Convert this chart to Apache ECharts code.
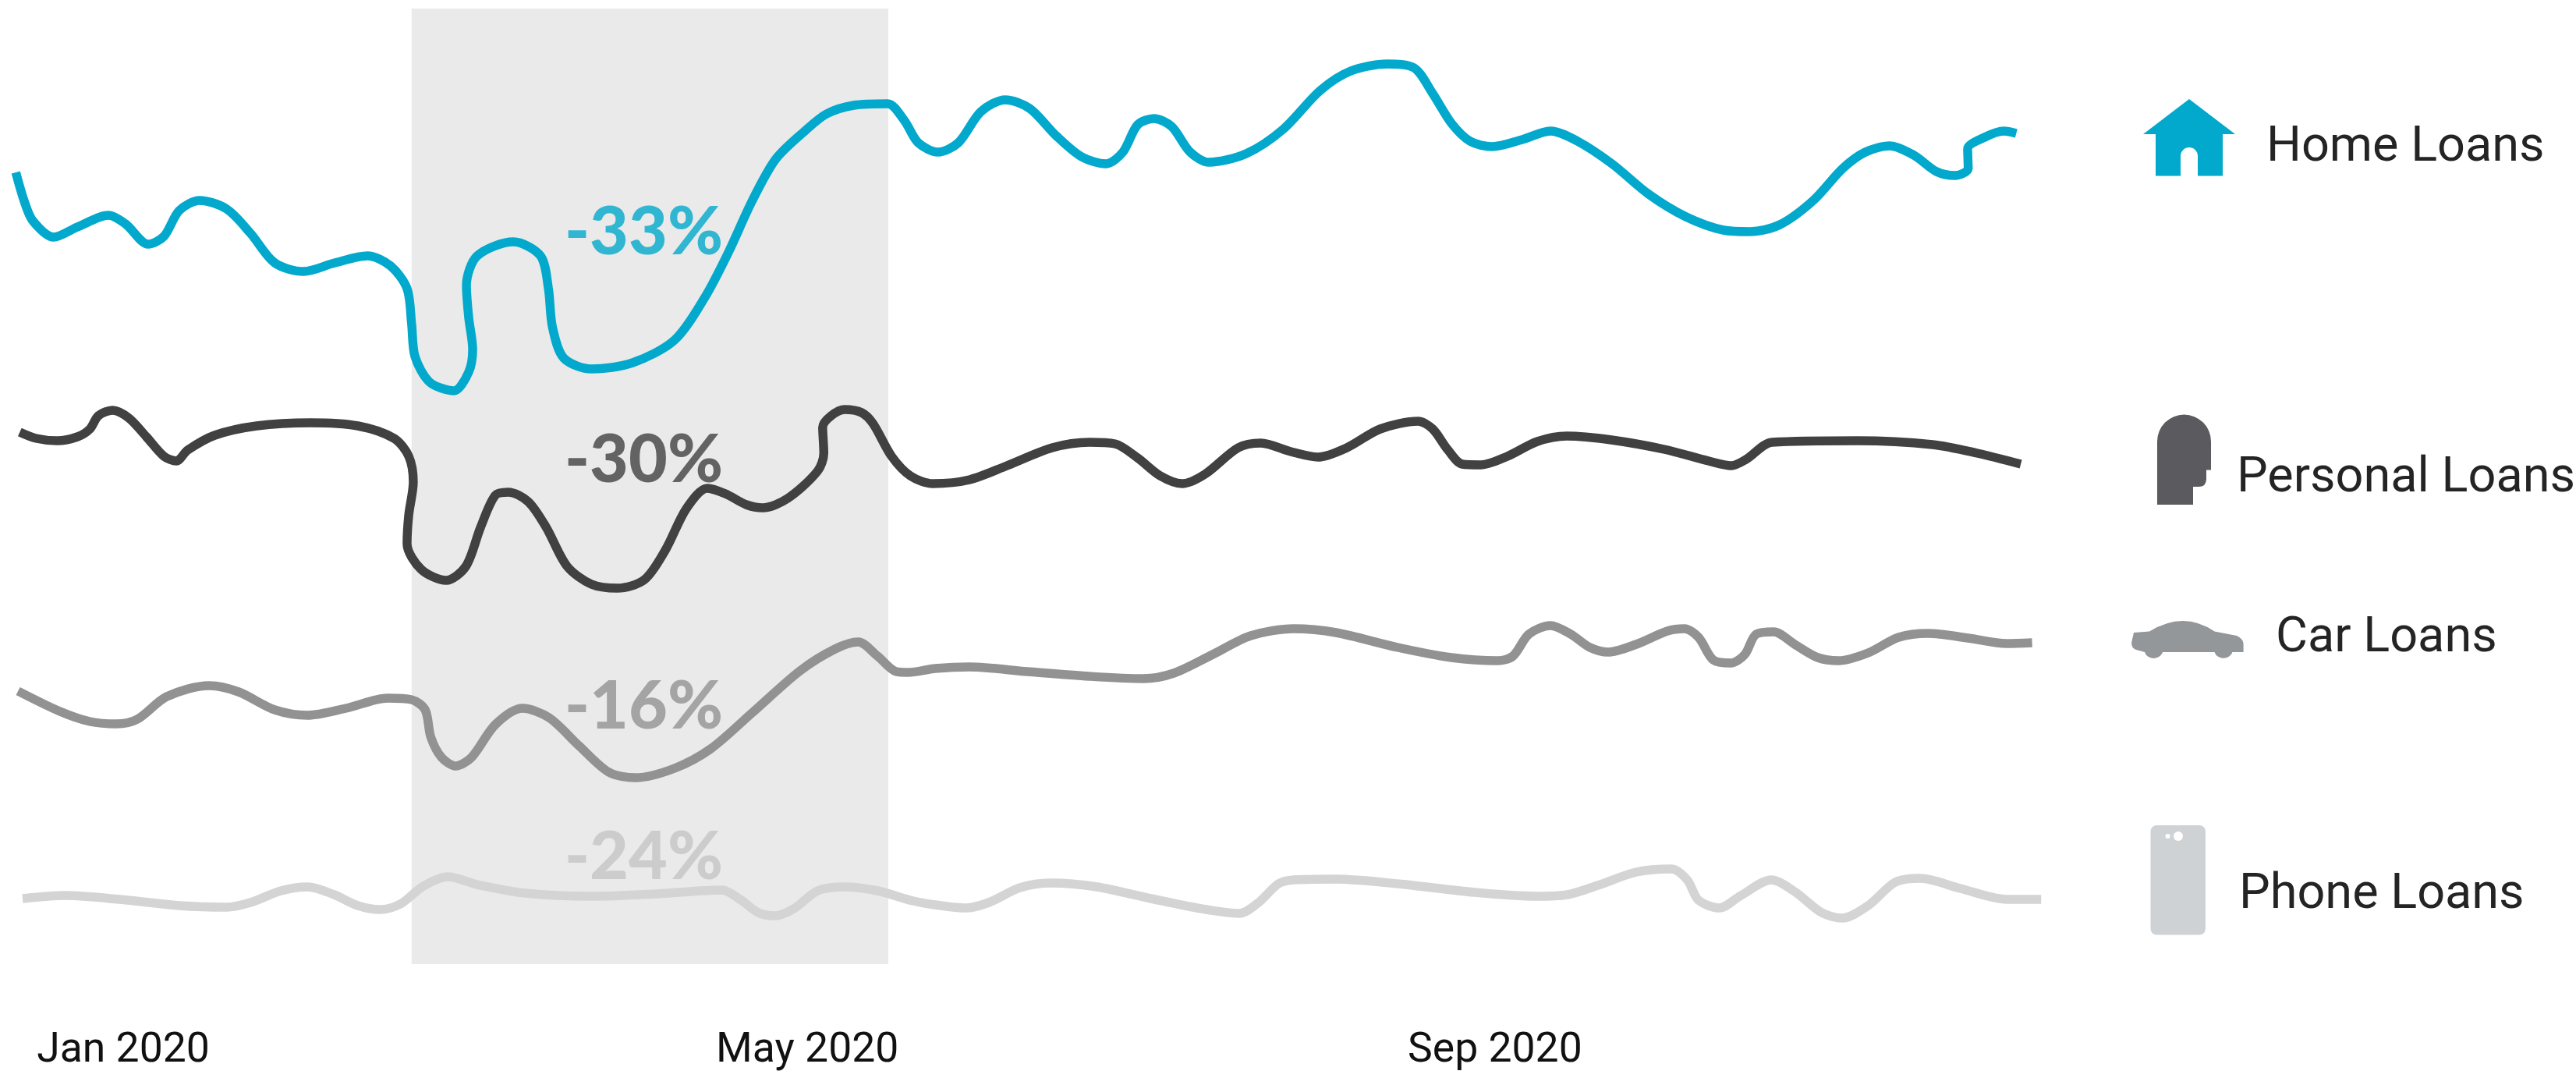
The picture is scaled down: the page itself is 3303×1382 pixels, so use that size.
<!DOCTYPE html>
<html>
<head>
<meta charset="utf-8">
<title>Loan applications, 2020</title>
<style>html,body{margin:0;padding:0;background:#fff}#chart{width:3303px;height:1382px}</style>
<script src="https://cdn.jsdelivr.net/npm/echarts@6/dist/echarts.min.js"></script>
</head>
<body>
<div id="chart"></div>
<script>
// Each series: [days since 1 Jan 2020, interest index]
const homeLoans = [[-19.0,116.1],[-17.5,112.4],[-16.0,109.9],[-12.3,107.8],[-8.1,109.1],[-2.6,110.6],[0.4,109.5],[4.4,106.9],[7.2,107.9],[9.9,111.2],[13.5,112.5],[18.3,111.4],[22.5,108.3],[26.8,104.5],[31.9,103.4],[37.4,104.5],[43.2,105.4],[47.3,104.1],[50.2,101.2],[51.0,96.7],[51.6,92.5],[54.2,89.2],[58.5,88.1],[61.1,90.5],[61.8,93.4],[61.1,97.5],[60.7,101.6],[62.6,105.4],[69.0,107.2],[73.8,105.4],[75.2,101.2],[75.9,96.3],[77.9,92.3],[82.8,90.9],[90.1,91.7],[97.5,94.6],[102.8,100.0],[107.0,105.8],[111.2,112.4],[115.4,117.8],[120.7,121.5],[124.4,123.6],[129.2,124.7],[135.2,124.9],[138.1,122.8],[140.6,119.9],[144.1,118.7],[147.7,119.9],[151.7,123.9],[156.0,125.4],[160.3,124.3],[165.0,120.8],[169.5,118.1],[173.8,117.2],[176.8,118.7],[179.4,122.2],[182.3,123.0],[185.4,122.0],[188.7,118.7],[192.0,117.4],[198.6,118.5],[205.1,121.6],[211.7,126.6],[217.1,129.1],[223.6,130.0],[228.3,129.5],[231.6,126.2],[234.9,122.4],[238.2,120.1],[242.1,119.4],[247.4,120.3],[252.4,121.4],[257.2,120.1],[263.3,117.2],[269.8,113.3],[276.4,110.4],[283.0,108.7],[287.7,108.5],[293.0,109.4],[298.9,112.5],[304.1,116.6],[308.1,118.7],[312.4,119.5],[316.7,118.3],[320.7,116.2],[324.0,115.7],[326.3,116.6],[326.2,119.1],[329.2,120.6],[332.6,121.4],[334.8,121.1]];
const personalLoans = [[-18.3,82.8],[-15.4,82.0],[-11.7,81.7],[-8.1,82.2],[-5.9,83.2],[-4.4,84.9],[-1.9,85.6],[1.0,84.6],[4.1,82.2],[7.2,79.7],[9.4,79.1],[11.4,80.5],[16.2,82.4],[23.6,83.6],[33.1,84.0],[41.5,83.6],[47.9,82.0],[50.5,79.7],[51.3,76.4],[50.5,72.2],[50.2,68.5],[52.7,65.2],[57.1,63.8],[60.6,65.6],[63.2,70.6],[65.8,74.7],[68.1,75.1],[71.6,73.9],[74.8,70.6],[78.5,65.6],[82.8,63.3],[87.4,62.8],[92.2,63.9],[95.9,67.7],[99.6,73.0],[103.3,75.6],[106.5,74.9],[110.2,73.5],[113.1,73.1],[117.5,74.3],[122.8,77.8],[123.9,80.1],[123.7,83.4],[127.6,85.7],[130.6,85.3],[132.6,83.9],[135.9,79.7],[139.2,77.2],[143.2,76.2],[149.7,76.7],[156.3,78.5],[164.3,80.8],[170.9,81.5],[175.4,81.3],[179.4,79.5],[183.4,77.2],[187.3,76.2],[191.3,77.4],[197.2,80.8],[201.2,81.4],[206.5,80.3],[211.3,79.6],[216.4,80.8],[222.3,83.2],[229.0,84.2],[231.6,83.2],[234.2,80.6],[236.8,78.7],[240.1,78.6],[244.8,79.7],[250.1,81.6],[255.3,82.3],[263.2,81.8],[272.5,80.6],[280.4,79.1],[284.4,78.5],[287.0,79.3],[291.6,81.5],[306.8,81.7],[320.0,81.2],[327.9,80.1],[335.6,78.7]];
const carLoans = [[-18.6,49.6],[-11.2,47.0],[-5.9,45.7],[-1.2,45.4],[2.5,46.0],[7.7,48.9],[15.2,50.3],[20.4,49.5],[26.8,47.2],[32.6,46.5],[39.4,47.4],[46.8,48.7],[51.0,48.5],[53.4,47.2],[54.4,43.7],[56.3,41.1],[58.8,40.0],[61.6,41.1],[65.8,45.3],[70.6,47.4],[75.3,46.2],[80.6,42.6],[85.9,39.2],[90.6,38.5],[97.5,39.7],[103.9,42.2],[111.2,46.8],[119.7,52.2],[125.9,55.0],[130.0,55.9],[133.4,54.1],[136.7,52.1],[138.8,52.0],[143.6,52.5],[149.7,52.7],[159.9,52.1],[170.8,51.5],[180.4,51.2],[185.8,51.9],[192.7,54.3],[199.4,56.7],[207.0,57.6],[214.5,57.1],[225.4,55.2],[234.9,53.9],[243.1,53.5],[245.8,54.1],[248.6,56.9],[252.4,58.0],[256.0,56.9],[259.4,55.2],[262.6,54.6],[267.6,55.6],[273.1,57.3],[276.1,57.6],[278.6,56.5],[281.2,53.6],[284.3,53.2],[286.8,54.3],[288.8,56.9],[291.9,57.2],[295.6,55.6],[299.7,53.9],[303.4,53.5],[308.6,54.5],[314.0,56.5],[319.2,57.0],[326.3,56.4],[333.1,55.7],[337.6,55.8]];
const phoneLoans = [[-17.8,23.0],[-10.2,23.4],[-0.7,22.9],[9.9,22.1],[18.3,21.9],[22.5,22.5],[27.9,24.0],[32.6,24.5],[37.3,23.5],[41.5,22.1],[45.4,21.6],[49.0,22.3],[53.1,24.6],[57.4,25.8],[62.6,24.8],[71.1,23.7],[82.8,23.3],[94.3,23.6],[105.9,24.1],[109.1,22.9],[112.3,21.2],[115.2,20.8],[118.6,21.7],[122.8,24.0],[127.6,24.5],[133.4,24.0],[139.7,22.7],[143.6,22.2],[149.0,21.8],[153.1,22.5],[158.6,24.4],[164.0,25.0],[172.2,24.5],[181.8,23.0],[189.9,21.8],[197.4,21.1],[200.8,22.5],[204.3,24.9],[207.0,25.4],[214.5,25.5],[225.4,24.9],[239.0,23.8],[249.9,23.3],[255.4,23.5],[260.8,24.7],[267.6,26.4],[273.8,26.8],[276.6,25.4],[278.6,22.8],[282.3,21.8],[286.1,23.4],[291.5,25.4],[295.6,23.9],[300.4,21.2],[304.0,20.5],[308.6,22.1],[313.4,25.1],[317.8,25.6],[324.9,24.3],[333.1,22.9],[339.2,22.9]];

const tickDays = [0, 121, 242.6];
const tickLabels = ['Jan 2020', 'May 2020', 'Sep 2020'];
const dropPeriod = [51.0, 135.3];
const changeLabels = ['-33%', '-30%', '-16%', '-24%'];
const changeAnchors = [[78.0, 108.4], [78.0, 79.2], [78.0, 47.6], [78.0, 28.3]];
const seriesNames = ['Home Loans', 'Personal Loans', 'Car Loans', 'Phone Loans'];
const lineColors = ['#02A9CC', '#414141', '#929292', '#D4D4D4'];
const changeColors = ['#02A9CC', '#414141', '#929292', '#C4C4C4'];

// Icons beside the series names
const iconPaths = {
  houseIcon: 'M2807 127 L2866 172 L2850 172 L2850 225.5 L2818 225.5 L2818 200 A11 11 0 0 0 2796 200 L2796 225.5 L2764 225.5 L2764 172 L2748 172 Z',
  headIcon: 'M2766 566 A34.5 34.5 0 0 1 2835 566 L2835 602.5 L2829 602.5 L2829 614 Q2829 624 2819 624 L2812 624 L2812 647 L2766 647 Z',
  carIcon: 'M2736 811 L2756 809.5 Q2800 782.5 2839.5 809.5 L2868 815 Q2876.6 819 2876.6 826 L2876.6 836 L2862.4 836 A12 11 0 0 1 2839.5 836 L2773 836 A12 11 0 0 1 2750 836 L2739 833 Q2733 831 2733 824 Z'
};
Object.keys(iconPaths).forEach((name) => {
  echarts.graphic.registerShape(name, echarts.graphic.extendPath(iconPaths[name], {}));
});

const chart = echarts.init(document.getElementById('chart'), null, { renderer: 'canvas' });

const lineSeries = [homeLoans, personalLoans, carLoans, phoneLoans].map((data, i) => ({
  type: 'line',
  name: seriesNames[i],
  data,
  z: 3,
  smooth: 0.3,
  showSymbol: false,
  silent: true,
  lineStyle: { color: lineColors[i], width: 11.5, cap: 'butt', join: 'round' }
}));

const legendFont = { fontFamily: 'Roboto', fontSize: 63, fill: '#242424', verticalAlign: 'middle' };
const legendText = (text, x, y) => ({
  type: 'text', silent: true, style: Object.assign({}, legendFont, { text, x, y })
});
const icon = (type, fill) => ({ type, silent: true, style: { fill } });

chart.setOption({
  animation: false,
  backgroundColor: '#fff',
  grid: { left: 13, top: 10, width: 2610, height: 1300, containLabel: false },
  xAxis: {
    type: 'value', min: -20, max: 340,
    splitLine: { show: false }, axisLine: { show: false }, axisTick: { show: false },
    axisLabel: {
      customValues: tickDays,
      formatter: (v) => tickLabels[tickDays.indexOf(v)],
      fontFamily: 'Roboto', fontSize: 53.5, color: '#111', margin: 11,
      showMinLabel: true, showMaxLabel: true
    }
  },
  yAxis: { type: 'value', min: 7.2, max: 137.2, show: false, splitLine: { show: false } },
  series: [
    {
      type: 'line', name: 'Drop period', data: [], z: 1, silent: true,
      markArea: {
        silent: true,
        itemStyle: { color: '#EAEAEA' },
        data: [[{ xAxis: dropPeriod[0], yAxis: 137.1 }, { xAxis: dropPeriod[1], yAxis: 14.6 }]]
      }
    },
    ...lineSeries,
    {
      type: 'scatter', name: 'Change', z: 4, silent: true, symbolSize: 1,
      itemStyle: { color: 'transparent' },
      data: changeAnchors.map((value, i) => ({
        value,
        label: {
          show: true, position: 'right', distance: 0,
          formatter: changeLabels[i], color: changeColors[i],
          fontFamily: 'Lato', fontWeight: 900, fontSize: 86
        }
      }))
    }
  ],
  graphic: [
    icon('houseIcon', '#02A9CC'),
    icon('headIcon', '#5A5A5F'),
    icon('carIcon', '#94979A'),
    { type: 'rect', silent: true, shape: { x: 2757.5, y: 1058, width: 70.5, height: 140.5, r: 8 }, style: { fill: '#CFD2D4' } },
    { type: 'circle', silent: true, shape: { cx: 2793, cy: 1072, r: 6 }, style: { fill: '#fff' } },
    { type: 'circle', silent: true, shape: { cx: 2779.5, cy: 1072, r: 3 }, style: { fill: '#fff' } },
    legendText(seriesNames[0], 2906, 190),
    legendText(seriesNames[1], 2868, 614),
    legendText(seriesNames[2], 2918, 819),
    legendText(seriesNames[3], 2871, 1148)
  ]
});
</script>
</body>
</html>
